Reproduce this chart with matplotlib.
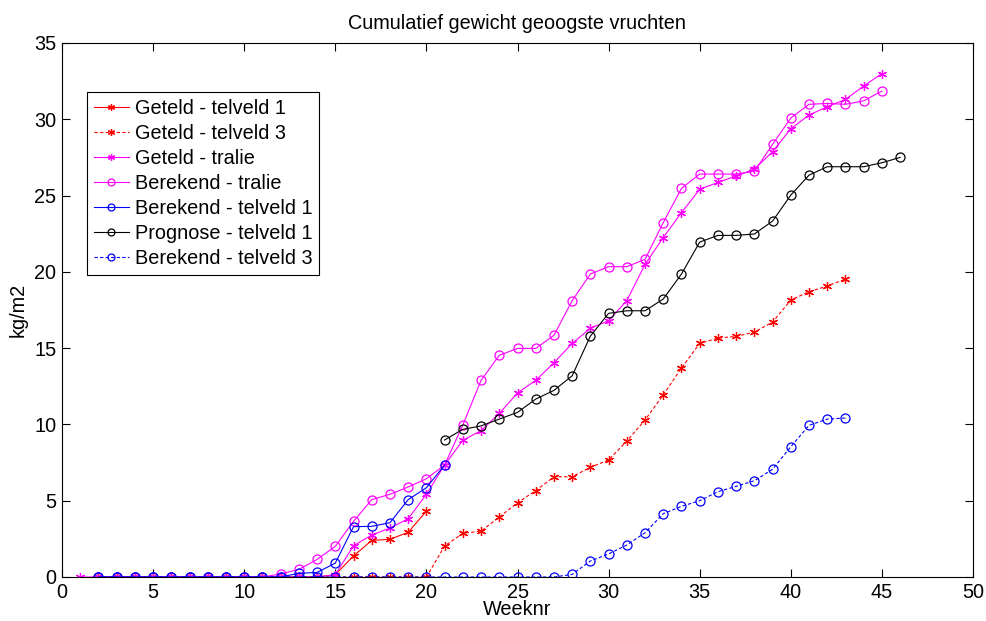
import matplotlib
matplotlib.use("Agg")
import matplotlib.pyplot as plt

plt.rcParams['font.family'] = ['Liberation Sans', 'DejaVu Sans']

# ---- data ----
weeks_gt1 = list(range(2, 21))
geteld_telveld1 = [0]*13 + [0.15, 1.38, 2.4, 2.47, 2.93, 4.32]

weeks_gt3 = list(range(2, 44))
geteld_telveld3 = [0]*19 + [2.03, 2.86, 3.01, 3.93, 4.87, 5.66, 6.57, 6.57, 7.19, 7.67,
                            8.91, 10.29, 11.94, 13.7, 15.31, 15.66, 15.77, 16.05, 16.71,
                            18.15, 18.7, 19.07, 19.53]

weeks_gtr = list(range(1, 46))
geteld_tralie = [0]*14 + [0.15, 2.05, 2.75, 3.21, 3.82, 5.42, 7.34, 8.96, 9.59, 10.72,
                          12.06, 12.89, 14.04, 15.31, 16.3, 16.8, 18.11, 20.49, 22.25,
                          23.88, 25.41, 25.86, 26.28, 26.74, 27.87, 29.38, 30.28, 30.82,
                          31.3, 32.18, 33.0]

weeks_btr = list(range(2, 46))
berekend_tralie = [0]*10 + [0.2, 0.5, 1.15, 2.01, 3.65, 5.07, 5.42, 5.9, 6.44, 7.34,
                            9.96, 12.89, 14.53, 14.98, 14.98, 15.84, 18.11, 19.86, 20.34,
                            20.34, 20.82, 23.23, 25.47, 26.41, 26.41, 26.41, 26.59, 28.36,
                            30.08, 30.98, 31.04, 30.98, 31.21, 31.85]

weeks_bt1 = list(range(2, 22))
berekend_telveld1 = [0]*11 + [0.24, 0.3, 0.91, 3.3, 3.32, 3.56, 5.07, 5.85, 7.34]

weeks_pt1 = list(range(21, 47))
prognose_telveld1 = [8.98, 9.68, 9.9, 10.35, 10.79, 11.66, 12.23, 13.19, 15.79, 17.28,
                     17.45, 17.45, 18.22, 19.86, 21.95, 22.39, 22.39, 22.48, 23.33,
                     25.03, 26.34, 26.89, 26.89, 26.89, 27.15, 27.5]

weeks_bt3 = list(range(2, 44))
berekend_telveld3 = [0]*26 + [0.17, 1.05, 1.51, 2.1, 2.9, 4.15, 4.63, 5.0, 5.59, 5.94,
                              6.31, 7.06, 8.54, 9.94, 10.35, 10.42]

labels = ["Geteld - telveld 1", "Geteld - telveld 3", "Geteld - tralie",
          "Berekend - tralie", "Berekend - telveld 1", "Prognose - telveld 1",
          "Berekend - telveld 3"]

x_ticks = list(range(0, 51, 5))
y_ticks = list(range(0, 36, 5))

# ---- plot ----
fig = plt.figure(figsize=(9.86, 6.21), dpi=100)
ax = fig.add_axes([62/986, 1-577/621, (973-62)/986, (577-43)/621])

star = (6, 2, 0)
lw = 0.8
fs = 14.3

ax.plot(weeks_gt1, geteld_telveld1, '-', color='#ff0000', marker=star, ms=6.5, mew=0.9, lw=lw, label=labels[0])
ax.plot(weeks_gt3, geteld_telveld3, '--', color='#ff0000', marker=star, ms=6.5, mew=0.9, lw=lw, dashes=(3, 2), label=labels[1])
ax.plot(weeks_gtr, geteld_tralie, '-', color='#ff00ff', marker=star, ms=6.5, mew=0.9, lw=lw, label=labels[2])
ax.plot(weeks_btr, berekend_tralie, '-', color='#ff00ff', marker='o', ms=6.5, mfc='none', mew=0.9, lw=lw, label=labels[3])
ax.plot(weeks_bt1, berekend_telveld1, '-', color='#0000ff', marker='o', ms=6.5, mfc='none', mew=0.9, lw=lw, label=labels[4])
ax.plot(weeks_pt1, prognose_telveld1, '-', color='black', marker='o', ms=6.5, mfc='none', mew=0.9, lw=lw, label=labels[5])
ax.plot(weeks_bt3, berekend_telveld3, '--', color='#0000ff', marker='o', ms=6.5, mfc='none', mew=0.9, lw=lw, dashes=(3, 2), label=labels[6])

ax.set_xlim(0, 50)
ax.set_ylim(0, 35)
ax.set_xticks(x_ticks)
ax.set_yticks(y_ticks)
ax.tick_params(direction='in', length=6, width=0.8, top=True, right=True, labelsize=fs, pad=4)
for s in ax.spines.values():
    s.set_linewidth(0.8)

ax.set_title("Cumulatief gewicht geoogste vruchten", fontsize=fs, pad=10)
ax.set_xlabel("Weeknr", fontsize=fs, labelpad=-1)
ax.set_ylabel("kg/m2", fontsize=fs, labelpad=5)

leg = ax.legend(loc='upper left', bbox_to_anchor=(25/911, (577-92)/534), borderaxespad=0,
                fontsize=fs, handlelength=1.75, handletextpad=0.3, labelspacing=0.3,
                borderpad=0.35, fancybox=False, framealpha=1, edgecolor='black')
leg.get_frame().set_linewidth(0.8)
for h in leg.legend_handles:
    h.set_markersize(5)

fig.savefig("out.png", dpi=100, facecolor='white')
